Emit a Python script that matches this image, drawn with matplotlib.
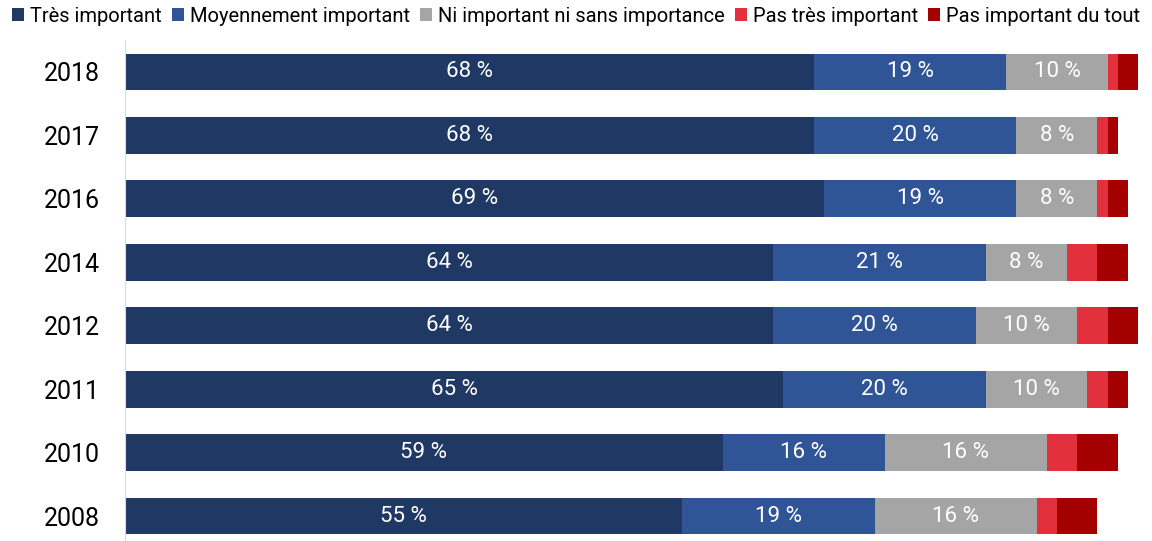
import matplotlib
matplotlib.use("Agg")
import matplotlib.pyplot as plt
import numpy as np

years = ["2018", "2017", "2016", "2014", "2012", "2011", "2010", "2008"]
series_names = ["Très important", "Moyennement important",
                "Ni important ni sans importance", "Pas très important",
                "Pas important du tout"]
tres = [68, 68, 69, 64, 64, 65, 59, 55]
moyen = [19, 20, 19, 21, 20, 20, 16, 19]
ni = [10, 8, 8, 8, 10, 10, 16, 16]
pas_tres = [1, 1, 1, 3, 3, 2, 3, 2]
pas_tout = [2, 1, 2, 3, 3, 2, 4, 4]
colors = ["#203864", "#2F5597", "#A5A5A5", "#E2313C", "#A50000"]
labelled = [True, True, True, False, False]

plt.rcParams['font.family'] = ['Roboto', 'DejaVu Sans']

fig = plt.figure(figsize=(11.52, 5.41), dpi=100)
ax = fig.add_axes([125/1152, 0, (1138-125)/1152, (541-40)/541])

data = [tres, moyen, ni, pas_tres, pas_tout]
n = len(years)
ypos = np.arange(n)[::-1]
left = np.zeros(n)
for vals, col, name, lab in zip(data, colors, series_names, labelled):
    vals = np.array(vals, dtype=float)
    bars = ax.barh(ypos, vals, left=left, height=0.58, color=col, label=name)
    if lab:
        for b, v in zip(bars, vals):
            ax.text(b.get_x() + b.get_width()/2, b.get_y() + b.get_height()/2,
                    f"{int(v)} %", ha='center', va='center', color='white',
                    fontsize=16)
    left += vals

ax.set_xlim(0, 100)
ax.set_ylim(-0.394, 7.504)
ax.set_yticks(ypos)
ax.set_yticklabels(years, fontsize=18)
ax.tick_params(axis='y', length=0, pad=18)
ax.set_xticks([])
for s in ['top', 'right', 'bottom']:
    ax.spines[s].set_visible(False)
ax.spines['left'].set_color('#D9D9D9')

handles, labels = ax.get_legend_handles_labels()
fig.legend(handles, labels, loc='upper left', bbox_to_anchor=(0.0, 1.01),
           ncol=5, frameon=False, fontsize=14.5, handlelength=0.6,
           handleheight=0.6, handletextpad=0.3, columnspacing=0.5,
           borderaxespad=0.2)

fig.savefig("out.png", dpi=100)
